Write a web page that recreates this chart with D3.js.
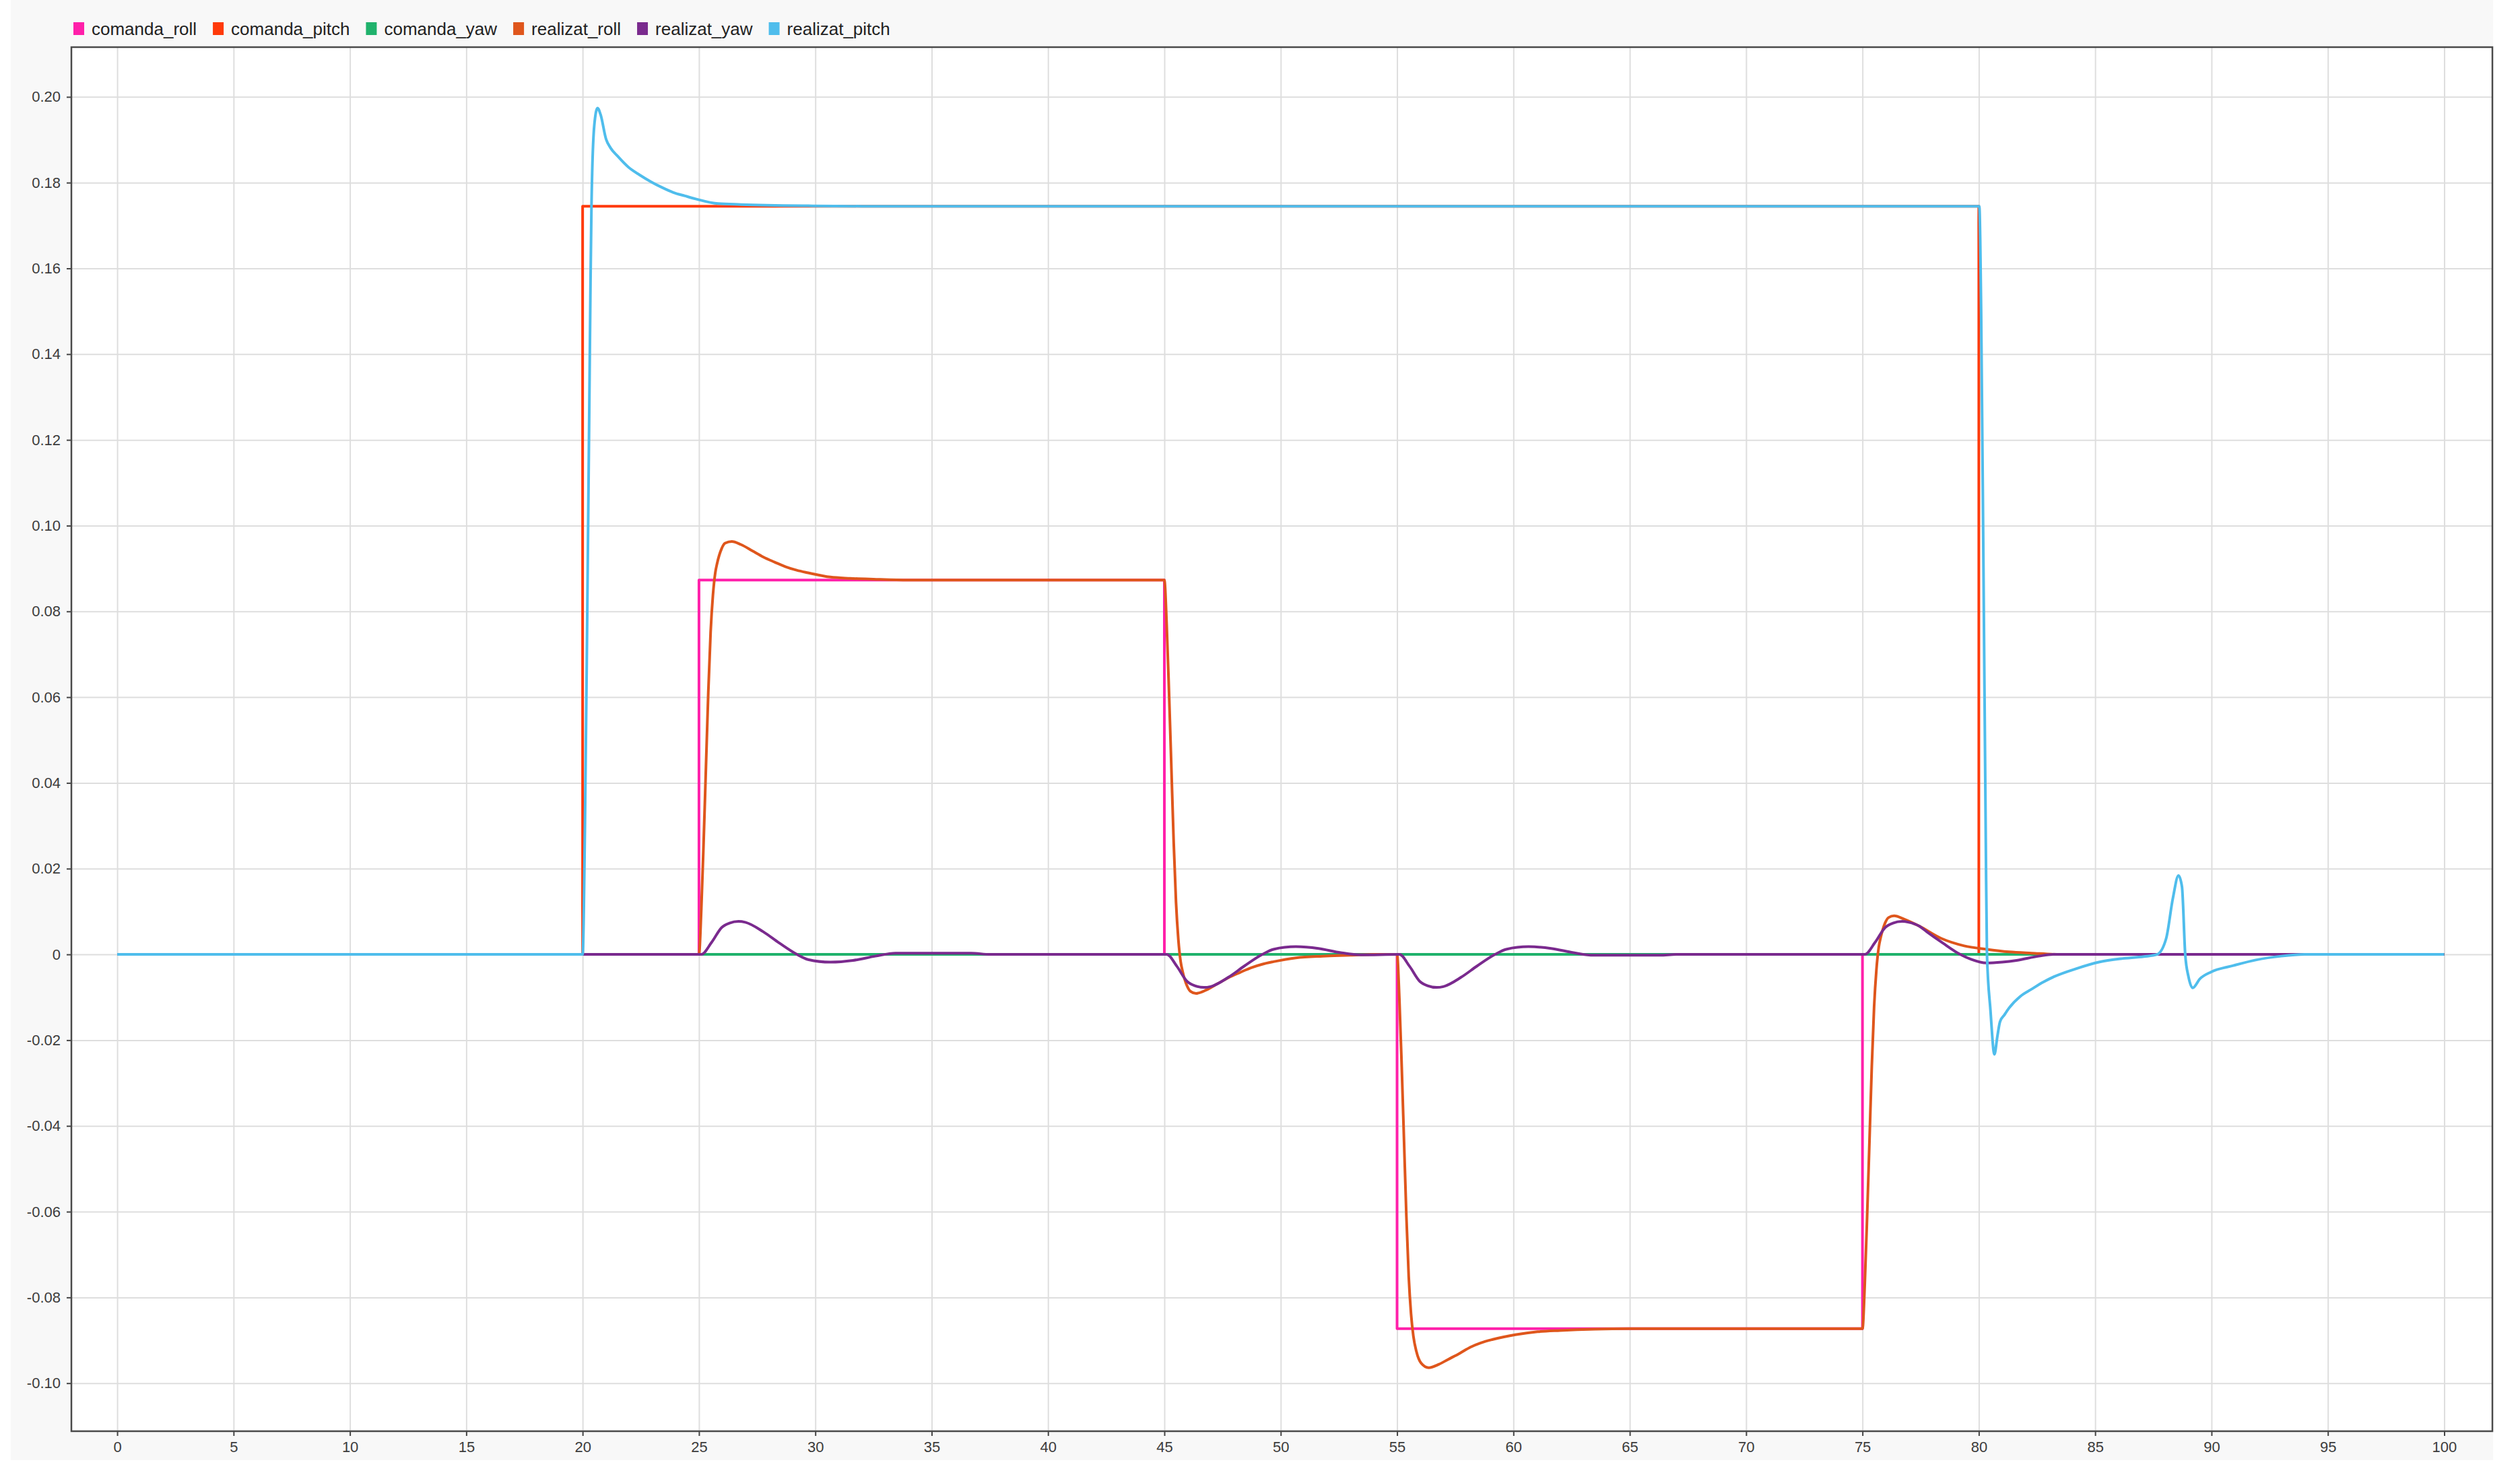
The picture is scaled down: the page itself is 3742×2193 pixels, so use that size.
<!DOCTYPE html>
<html>
<head>
<meta charset="utf-8">
<script src="https://cdn.jsdelivr.net/npm/d3@7"></script>
<style>
  html, body { margin: 0; padding: 0; background: #ffffff; }
  svg { display: block; }
  text { font-family: "Liberation Sans", Arial, Helvetica, sans-serif; }
</style>
</head>
<body>
<svg id="chart" width="3742" height="2193"></svg>
<script>
// ---------------- DATA ----------------
const seriesNames = ["comanda_roll", "comanda_pitch", "comanda_yaw", "realizat_roll", "realizat_yaw", "realizat_pitch"];
const seriesColors = ["#ff20aa", "#ff3a0a", "#20b26c", "#df561c", "#7a2a8e", "#4fbdec"];

const xTicks = [0, 5, 10, 15, 20, 25, 30, 35, 40, 45, 50, 55, 60, 65, 70, 75, 80, 85, 90, 95, 100];
const yTicks = [-0.10, -0.08, -0.06, -0.04, -0.02, 0, 0.02, 0.04, 0.06, 0.08, 0.10, 0.12, 0.14, 0.16, 0.18, 0.20];
const yTickLabels = ["-0.10", "-0.08", "-0.06", "-0.04", "-0.02", "0", "0.02", "0.04", "0.06", "0.08", "0.10", "0.12", "0.14", "0.16", "0.18", "0.20"];

// [time, value]
const comanda_roll = [[0,0],[25,0],[25,0.0873],[45,0.0873],[45,0],[55,0],[55,-0.0873],[75,-0.0873],[75,0],[100,0]];
const comanda_pitch = [[0,0],[20,0],[20,0.1745],[80,0.1745],[80,0],[100,0]];
const comanda_yaw = [[0,0],[100,0]];

const realizat_roll = [
  [0,0],[25,0],[25.1,0.0105],[25.2,0.0262],[25.3,0.0437],[25.4,0.0611],[25.5,0.0751],[25.6,0.0838],
  [25.7,0.0890],[25.78,0.0912],[25.97,0.0946],[26.12,0.0959],[26.41,0.0963],[26.8,0.0956],[27.3,0.0941],
  [27.76,0.0927],[28.25,0.0915],[28.73,0.0904],[29.2,0.0896],[29.69,0.0890],[30.65,0.0880],[31.5,0.0877],
  [32.5,0.0875],[34,0.0873],[45,0.0873],
  [45.1,0.0768],[45.2,0.0611],[45.3,0.0437],[45.4,0.0262],[45.5,0.0122],[45.6,0.0035],[45.7,-0.0017],
  [45.78,-0.0039],[45.97,-0.0073],[46.12,-0.0086],[46.36,-0.0091],[46.8,-0.0083],[47.3,-0.0068],
  [47.76,-0.0054],[48.25,-0.0042],[48.73,-0.0031],[49.2,-0.0023],[49.69,-0.0017],[50.65,-0.0008],
  [51.8,-0.0004],[53,-0.0002],[54,0],[55,0],
  [55.1,-0.0105],[55.2,-0.0262],[55.3,-0.0437],[55.4,-0.0611],[55.5,-0.0751],[55.6,-0.0838],[55.7,-0.0890],
  [55.83,-0.0926],[56.03,-0.0953],[56.36,-0.0964],[56.8,-0.0956],[57.18,-0.0945],[57.7,-0.0930],
  [58.15,-0.0916],[58.6,-0.0906],[59.11,-0.0898],[60.08,-0.0887],[61.04,-0.0880],[62,-0.0877],
  [63.5,-0.0874],[65,-0.0873],[75,-0.0873],
  [75.1,-0.0768],[75.2,-0.0611],[75.3,-0.0437],[75.4,-0.0262],[75.5,-0.0122],[75.6,-0.0035],[75.7,0.0017],
  [75.78,0.0039],[75.97,0.0073],[76.12,0.0086],[76.36,0.0090],[76.8,0.0082],[77.44,0.0066],[78.4,0.0037],
  [79.37,0.0020],[80.33,0.0012],[81.3,0.0006],[82.27,0.0003],[83.5,0],[100,0]
];

const realizat_yaw = [
  [0,0],[25.1,0],[25.54,0.0028],[25.98,0.0063],[26.31,0.0073],[26.7,0.0077],[26.99,0.0075],[27.76,0.0053],
  [28.44,0.0027],[29.21,0],[29.69,-0.0012],[30.65,-0.0018],[31.62,-0.0014],[32.58,-0.0004],[33.45,0.0003],
  [36.7,0.0003],[37.5,0],[45.1,0],
  [45.54,-0.0028],[45.98,-0.0063],[46.31,-0.0073],[46.7,-0.0077],[46.99,-0.0075],[47.76,-0.0053],
  [48.44,-0.0027],[49.21,0],[49.69,0.0012],[50.65,0.0018],[51.62,0.0014],[52.58,0.0004],[53.45,-0.0001],
  [55.1,0],
  [55.54,-0.0028],[55.98,-0.0063],[56.31,-0.0073],[56.7,-0.0077],[56.99,-0.0075],[57.76,-0.0053],
  [58.44,-0.0027],[59.21,0],[59.69,0.0012],[60.65,0.0018],[61.62,0.0014],[62.58,0.0004],[63.45,-0.0002],
  [66.3,-0.0002],[67,0],[75.1,0],
  [75.54,0.0028],[75.98,0.0063],[76.31,0.0073],[76.7,0.0077],[76.99,0.0075],[77.44,0.0066],[77.76,0.0053],
  [78.44,0.0027],[79.2,0],[79.69,-0.0012],[80.33,-0.0020],[81,-0.0018],[81.62,-0.0014],[82.58,-0.0004],
  [83.2,0],[100,0]
];

const realizat_pitch = [
  [0,0],[20,0],[20.1,0.030],[20.2,0.080],[20.3,0.135],[20.34,0.157],[20.38,0.1745],[20.5,0.1933],
  [20.64,0.1974],[20.77,0.1959],[21.01,0.1901],[21.2,0.1881],[21.5,0.1862],[21.97,0.1836],[22.45,0.1818],
  [22.94,0.1802],[23.4,0.1789],[23.9,0.1777],[24.4,0.1769],[24.86,0.1762],[25.83,0.1751],[26.8,0.1749],
  [29.7,0.1746],[32,0.1745],[80.02,0.1745],
  [80.1,0.150],[80.2,0.090],[80.3,0.026],[80.35,0.0],[80.5,-0.013],[80.67,-0.0233],[80.8,-0.0190],
  [80.91,-0.0157],[81.1,-0.0141],[81.3,-0.0125],[81.78,-0.0098],[82.27,-0.0081],[82.75,-0.0065],
  [83.23,-0.0052],[84.2,-0.0033],[85.16,-0.0018],[86.1,-0.0010],[87.1,-0.0005],[87.66,0],
  [88.05,0.0037],[88.34,0.0131],[88.58,0.0184],[88.73,0.0158],[88.87,0.0],[89.01,-0.0052],
  [89.19,-0.0078],[89.5,-0.0057],[89.98,-0.0041],[90.94,-0.0026],[91.9,-0.0013],[93,-0.0004],
  [94,0],[100,0]
];

const seriesData = [comanda_roll, comanda_pitch, comanda_yaw, realizat_roll, realizat_yaw, realizat_pitch];
const seriesSmooth = [false, false, false, true, true, true];

// ---------------- LAYOUT ----------------
const svg = d3.select("#chart");
const plotL = 106, plotR = 3701, plotT = 70, plotB = 2125;

svg.append("rect").attr("x", 16).attr("y", 0).attr("width", 3686).attr("height", 2168).attr("fill", "#f8f8f8");
svg.append("rect").attr("x", plotL).attr("y", plotT).attr("width", plotR - plotL).attr("height", plotB - plotT).attr("fill", "#ffffff");

const x = d3.scaleLinear().domain([-1.97, 102.07]).range([plotL, plotR]);
const y = d3.scaleLinear().domain([-0.1112, 0.2116]).range([plotB, plotT]);

// gridlines
const gx = svg.append("g").attr("transform", `translate(0,${plotB})`)
  .call(d3.axisBottom(x).tickValues(xTicks).tickSize(-(plotB - plotT)).tickFormat(""));
gx.select(".domain").remove();
gx.selectAll("line").attr("stroke", "#dedede").attr("stroke-width", 2);

const gy = svg.append("g").attr("transform", `translate(${plotL},0)`)
  .call(d3.axisLeft(y).tickValues(yTicks).tickSize(-(plotR - plotL)).tickFormat(""));
gy.select(".domain").remove();
gy.selectAll("line").attr("stroke", "#dedede").attr("stroke-width", 2);

// series
const clip = svg.append("clipPath").attr("id", "clip").append("rect")
  .attr("x", plotL).attr("y", plotT).attr("width", plotR - plotL).attr("height", plotB - plotT);
const lines = svg.append("g").attr("clip-path", "url(#clip)");
seriesData.forEach((d, i) => {
  const gen = d3.line()
    .defined(p => p[1] !== null)
    .x(p => x(p[0])).y(p => y(p[1]))
    .curve(seriesSmooth[i] ? d3.curveMonotoneX : d3.curveLinear);
  lines.append("path").datum(d)
    .attr("fill", "none")
    .attr("stroke", seriesColors[i])
    .attr("stroke-width", 4)
    .attr("stroke-linejoin", "round")
    .attr("d", gen);
});

// axes
const ax = svg.append("g").attr("transform", `translate(0,${plotB})`)
  .call(d3.axisBottom(x).tickValues(xTicks).tickSize(7).tickPadding(8).tickFormat(d => String(d)));
ax.select(".domain").remove();
ax.selectAll("line").attr("stroke", "#444").attr("stroke-width", 2);
ax.selectAll("text").attr("fill", "#3c3c3c").attr("font-size", 22)
  .attr("font-family", "'Liberation Sans', Arial, sans-serif");

const ay = svg.append("g").attr("transform", `translate(${plotL},0)`)
  .call(d3.axisLeft(y).tickValues(yTicks).tickSize(7).tickPadding(9).tickFormat((d, i) => yTickLabels[i]));
ay.select(".domain").remove();
ay.selectAll("line").attr("stroke", "#444").attr("stroke-width", 2);
ay.selectAll("text").attr("fill", "#3c3c3c").attr("font-size", 22)
  .attr("font-family", "'Liberation Sans', Arial, sans-serif");

// frame
svg.append("rect").attr("x", plotL).attr("y", plotT).attr("width", plotR - plotL).attr("height", plotB - plotT)
  .attr("fill", "none").attr("stroke", "#4a4a4a").attr("stroke-width", 2.5);

// legend
const leg = svg.append("g");
let lx = 109;
seriesNames.forEach((name, i) => {
  leg.append("rect").attr("x", lx).attr("y", 33).attr("width", 16).attr("height", 19).attr("fill", seriesColors[i]);
  const t = leg.append("text").attr("x", lx + 27).attr("y", 52).attr("font-size", 26)
    .attr("fill", "#222").text(name);
  lx = lx + 27 + t.node().getComputedTextLength() + 24;
});
</script>
</body>
</html>
